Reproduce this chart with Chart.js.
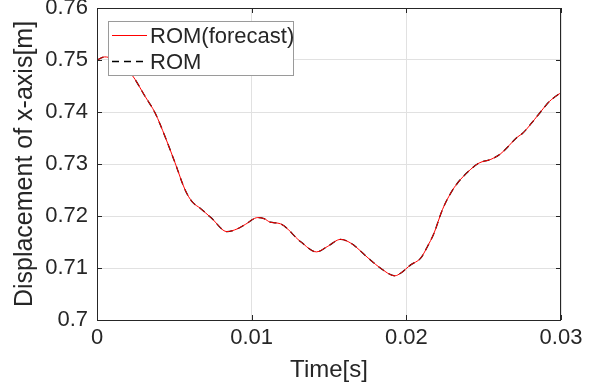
<!DOCTYPE html>
<html>
<head>
<meta charset="utf-8">
<script src="https://cdn.jsdelivr.net/npm/chart.js@4.4.1/dist/chart.umd.min.js"></script>
<style>
  html, body { margin: 0; padding: 0; background: #fff; }
  #wrap { width: 593px; height: 387px; }
</style>
</head>
<body>
<div id="wrap"><canvas id="grafico" width="593" height="387"></canvas></div>
<script>
// Dados
const tempo = [0, 0.0005, 0.001, 0.0015, 0.0019, 0.00227, 0.00311, 0.00376, 0.00441, 0.00505,
  0.0057, 0.00616, 0.00667, 0.0074, 0.0084, 0.00905, 0.0096, 0.0104, 0.0108, 0.01121,
  0.01186, 0.01315, 0.0142, 0.01488, 0.01575, 0.0164, 0.01769, 0.01834, 0.01926, 0.01963,
  0.02028, 0.02093, 0.02136, 0.02179, 0.02233, 0.02287, 0.0233, 0.02417, 0.02471, 0.02547,
  0.02611, 0.02719, 0.02752, 0.02827, 0.0287, 0.02924, 0.02989, 0.03];
const romForecast = [0.7500, 0.7506, 0.7502, 0.7490, 0.7482, 0.7471, 0.7430, 0.7398, 0.7352, 0.7302,
  0.7250, 0.7227, 0.7215, 0.7196, 0.7170, 0.7175, 0.7184, 0.7197, 0.7195, 0.7188,
  0.7185, 0.7151, 0.7131, 0.7141, 0.7155, 0.7148, 0.7115, 0.70995, 0.7085, 0.7090,
  0.7106, 0.7119, 0.7141, 0.7167, 0.7212, 0.7244, 0.7263, 0.7290, 0.7302, 0.7309,
  0.7320, 0.7352, 0.7359, 0.7385, 0.7401, 0.7420, 0.7435, 0.7437];
const rom = romForecast.slice(); // as duas curvas coincidem na figura

const ticksX = [0, 0.01, 0.02, 0.03];
const rotulosX = ["0", "0.01", "0.02", "0.03"];
const ticksY = [0.7, 0.71, 0.72, 0.73, 0.74, 0.75, 0.76];
const rotulosY = ["0.7", "0.71", "0.72", "0.73", "0.74", "0.75", "0.76"];

const fonte = '"Liberation Sans", Arial, sans-serif';
const corTexto = '#262626';

function pontos(xs, ys) {
  return xs.map((x, i) => ({ x: x, y: ys[i] }));
}

// caixa, ticks para dentro e legenda dentro do gráfico
const estiloMatlab = {
  id: 'estiloMatlab',
  afterDatasetsDraw(chart) {
    const { ctx, chartArea: a, scales } = chart;
    ctx.save();
    ctx.strokeStyle = corTexto;
    ctx.lineWidth = 1;
    ctx.beginPath();
    scales.y.ticks.forEach(t => {
      const py = Math.round(scales.y.getPixelForValue(t.value)) + 0.5;
      ctx.moveTo(a.left, py); ctx.lineTo(a.left + 5, py);
      ctx.moveTo(a.right, py); ctx.lineTo(a.right - 5, py);
    });
    scales.x.ticks.forEach(t => {
      const px = Math.round(scales.x.getPixelForValue(t.value)) + 0.5;
      ctx.moveTo(px, a.bottom); ctx.lineTo(px, a.bottom - 5);
      ctx.moveTo(px, a.top); ctx.lineTo(px, a.top + 5);
    });
    ctx.stroke();
    ctx.strokeRect(Math.round(a.left) + 0.5, Math.round(a.top) + 0.5,
      Math.round(a.right - a.left) - 1, Math.round(a.bottom - a.top));
    ctx.restore();
  },
  afterDraw(chart) {
    const ctx = chart.ctx;
    const bx = 108, by = 21, bw = 185, bh = 54;
    ctx.save();
    ctx.fillStyle = '#fff';
    ctx.fillRect(bx, by, bw, bh);
    ctx.strokeStyle = '#9a9a9a';
    ctx.lineWidth = 1;
    ctx.strokeRect(bx + 0.5, by + 0.5, bw, bh);
    ctx.font = '22px ' + fonte;
    ctx.textBaseline = 'middle';
    chart.data.datasets.forEach((ds, i) => {
      const ly = by + 14 + i * 26 + 0.5;
      ctx.beginPath();
      ctx.strokeStyle = ds.borderColor;
      ctx.lineWidth = ds.borderWidth;
      ctx.setLineDash(ds.borderDash || []);
      ctx.moveTo(bx + 4, ly); ctx.lineTo(bx + 39, ly);
      ctx.stroke();
      ctx.setLineDash([]);
      ctx.fillStyle = corTexto;
      ctx.fillText(ds.label, bx + 42, ly + 1);
    });
    ctx.restore();
  }
};

new Chart(document.getElementById('grafico'), {
  type: 'line',
  data: {
    datasets: [
      {
        label: 'ROM(forecast)',
        data: pontos(tempo, romForecast),
        borderColor: '#ff0000',
        borderWidth: 1,
        pointRadius: 0,
        cubicInterpolationMode: 'monotone',
        fill: false
      },
      {
        label: 'ROM',
        data: pontos(tempo, rom),
        borderColor: '#000000',
        borderWidth: 1.3,
        borderDash: [7, 5],
        pointRadius: 0,
        cubicInterpolationMode: 'monotone',
        fill: false
      }
    ]
  },
  options: {
    responsive: false,
    animation: false,
    devicePixelRatio: 1,
    layout: { padding: { left: 0, top: 8, right: 32, bottom: 0 } },
    plugins: { legend: { display: false }, tooltip: { enabled: false } },
    scales: {
      x: {
        type: 'linear',
        min: 0, max: 0.03,
        afterBuildTicks: s => { s.ticks = ticksX.map(v => ({ value: v })); },
        afterFit: s => { s.height = 67; s.paddingLeft = 0; s.paddingRight = 0; },
        ticks: {
          callback: (v, i) => rotulosX[i],
          font: { family: fonte, size: 22 },
          color: corTexto,
          padding: 5,
          maxRotation: 0
        },
        grid: { color: '#e1e1e1', drawTicks: false },
        border: { display: false },
        title: {
          display: true,
          text: 'Time[s]',
          font: { family: fonte, size: 24 },
          color: corTexto,
          padding: { top: 0, bottom: 2 }
        }
      },
      y: {
        type: 'linear',
        min: 0.7, max: 0.76,
        afterBuildTicks: s => { s.ticks = ticksY.map(v => ({ value: v })); },
        afterFit: s => { s.width = 97; s.paddingTop = 0; s.paddingBottom = 0; },
        ticks: {
          callback: (v, i) => rotulosY[i],
          font: { family: fonte, size: 22 },
          color: corTexto,
          padding: 9
        },
        grid: { color: '#e1e1e1', drawTicks: false },
        border: { display: false },
        title: {
          display: true,
          text: 'Displacement of x-axis[m]',
          font: { family: fonte, size: 25 },
          color: corTexto,
          padding: { top: 10, bottom: 0 }
        }
      }
    }
  },
  plugins: [estiloMatlab]
});
</script>
</body>
</html>
